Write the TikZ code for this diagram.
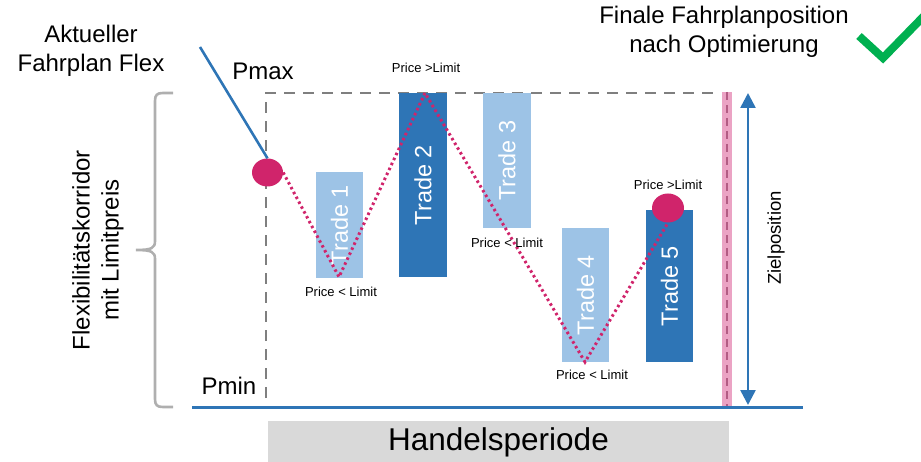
\documentclass[tikz,border=0pt]{standalone}
\usepackage{fontspec}
\setmainfont{Liberation Sans}
\usetikzlibrary{arrows.meta,shapes.geometric}
\definecolor{darkblue}{HTML}{2E75B6}
\definecolor{lightblue}{HTML}{9DC3E6}
\definecolor{magentaline}{HTML}{D0246B}
\definecolor{pinkbar}{HTML}{EBA3C4}
\definecolor{pinkdash}{HTML}{B35C84}
\definecolor{dashgray}{HTML}{7F7F7F}
\definecolor{bracegray}{HTML}{AFAFAF}
\definecolor{boxgray}{HTML}{D9D9D9}
\definecolor{checkgreen}{HTML}{00B050}
\begin{document}
\begin{tikzpicture}[x=1pt,y=-1pt,
  bigtext/.style={font=\fontsize{24}{29}\selectfont, align=center, inner sep=0pt},
  pricetext/.style={font=\fontsize{13}{15}\selectfont, inner sep=0pt},
  tradebox/.style={rotate=90, inner sep=0pt, text=white,
    font=\fontsize{23.5}{27}\selectfont},
  lighttrade/.style={tradebox, fill=lightblue},
  darktrade/.style={tradebox, fill=darkblue},
  marker/.style={ellipse, fill=magentaline, inner sep=0pt},
  pathline/.style={magentaline, line width=3pt, dash pattern=on 2.5pt off 3pt},
  corridor/.style={dashgray, line width=2.6pt, dash pattern=on 11pt off 8pt},
  blueline/.style={darkblue, line width=2.6pt}
]
\useasboundingbox (0,0) rectangle (921,462);

% period bar at the bottom
\node[fill=boxgray, minimum width=461pt, minimum height=42pt, inner sep=0pt,
      font=\fontsize{31.5}{36}\selectfont] (period) at (498.5,442) {Handelsperiode};

% flexibility corridor (dashed)
\coordinate (ctl) at (266,93);
\coordinate (ctr) at (720,93);
\coordinate (cbl) at (266,398);
\draw[corridor] (cbl) -- (ctl) -- (ctr);

% final schedule marker bar
\fill[pinkbar] (722,92) rectangle (732,407);
\coordinate (pbtop) at (727,92);
\coordinate (pbbot) at (727,407);
\draw[pinkdash, line width=2.2pt, dash pattern=on 8pt off 5pt] (pbtop) -- (pbbot);

% baseline
\coordinate (base l) at (192,407.5);
\coordinate (base r) at (803,407.5);
\draw[blueline] (base l) -- (base r);

% target position arrow
\coordinate (ztop) at (748,93);
\coordinate (zbot) at (748,405);
\draw[blueline, {Triangle[width=15pt,length=15pt]}-{Triangle[width=15pt,length=15pt]}] (ztop) -- (zbot);
\node[rotate=90, font=\fontsize{18.5}{22}\selectfont, inner sep=0pt] (ziel) at (776,238) {Zielposition};

% brace on the left
\draw[bracegray, line width=2.6pt]
  (173,93) -- (163,93) .. controls (157,93) and (155,95) .. (155,101)
  -- (155,241) .. controls (155,248) and (152,250) .. (136,250)
  .. controls (152,250) and (155,252) .. (155,259)
  -- (155,399) .. controls (155,405) and (157,407) .. (163,407) -- (173,407);
\node[bigtext, rotate=90] (flex) at (98,250) {Flexibilitätskorridor\\mit Limitpreis};

% labels
\node[bigtext] (aktuell) at (91,51) {Aktueller\\Fahrplan Flex};
\node[bigtext] (pmax) at (263,71) {Pmax};
\node[bigtext] (pmin) at (229,386) {Pmin};
\node[bigtext] (final) at (724,32) {Finale Fahrplanposition\\nach Optimierung};

% tick mark
\coordinate (ck1) at (859,36);
\coordinate (ck2) at (883,58);
\coordinate (ck3) at (925,15);
\draw[checkgreen, line width=8pt, miter limit=10] (ck1) -- (ck2) -- (ck3);

% trades
\node[lighttrade, minimum width=106pt, minimum height=47pt] (t1) at (339.5,225) {Trade 1};
\node[darktrade, minimum width=184pt, minimum height=48pt] (t2) at (423,185) {Trade 2};
\node[lighttrade, minimum width=135pt, minimum height=48pt] (t3) at (507,160.5) {Trade 3};
\node[lighttrade, minimum width=134pt, minimum height=47pt] (t4) at (585.5,295) {Trade 4};
\node[darktrade, minimum width=152pt, minimum height=47pt] (t5) at (669.5,286) {Trade 5};

% current schedule line and markers
\node[marker, minimum width=31pt, minimum height=28pt] (c1) at (267.5,172.5) {};
\node[marker, minimum width=32pt, minimum height=29pt] (c2) at (668,208) {};
\coordinate (start) at (200,47);
\draw[blueline] (start) -- (c1.north);

% optimisation path
\coordinate (v1) at (339,277);
\coordinate (v2) at (425,93);
\coordinate (v3) at (585,362);
\draw[pathline] (c1.east) -- (v1) -- (v2) -- (v3) -- (c2.south);

% price labels
\node[pricetext] (p1) at (341,292) {Price < Limit};
\node[pricetext] (p2) at (426,68) {Price >Limit};
\node[pricetext] (p3) at (507,243) {Price < Limit};
\node[pricetext] (p4) at (668,185) {Price >Limit};
\node[pricetext] (p5) at (592,375) {Price < Limit};
\end{tikzpicture}
\end{document}
